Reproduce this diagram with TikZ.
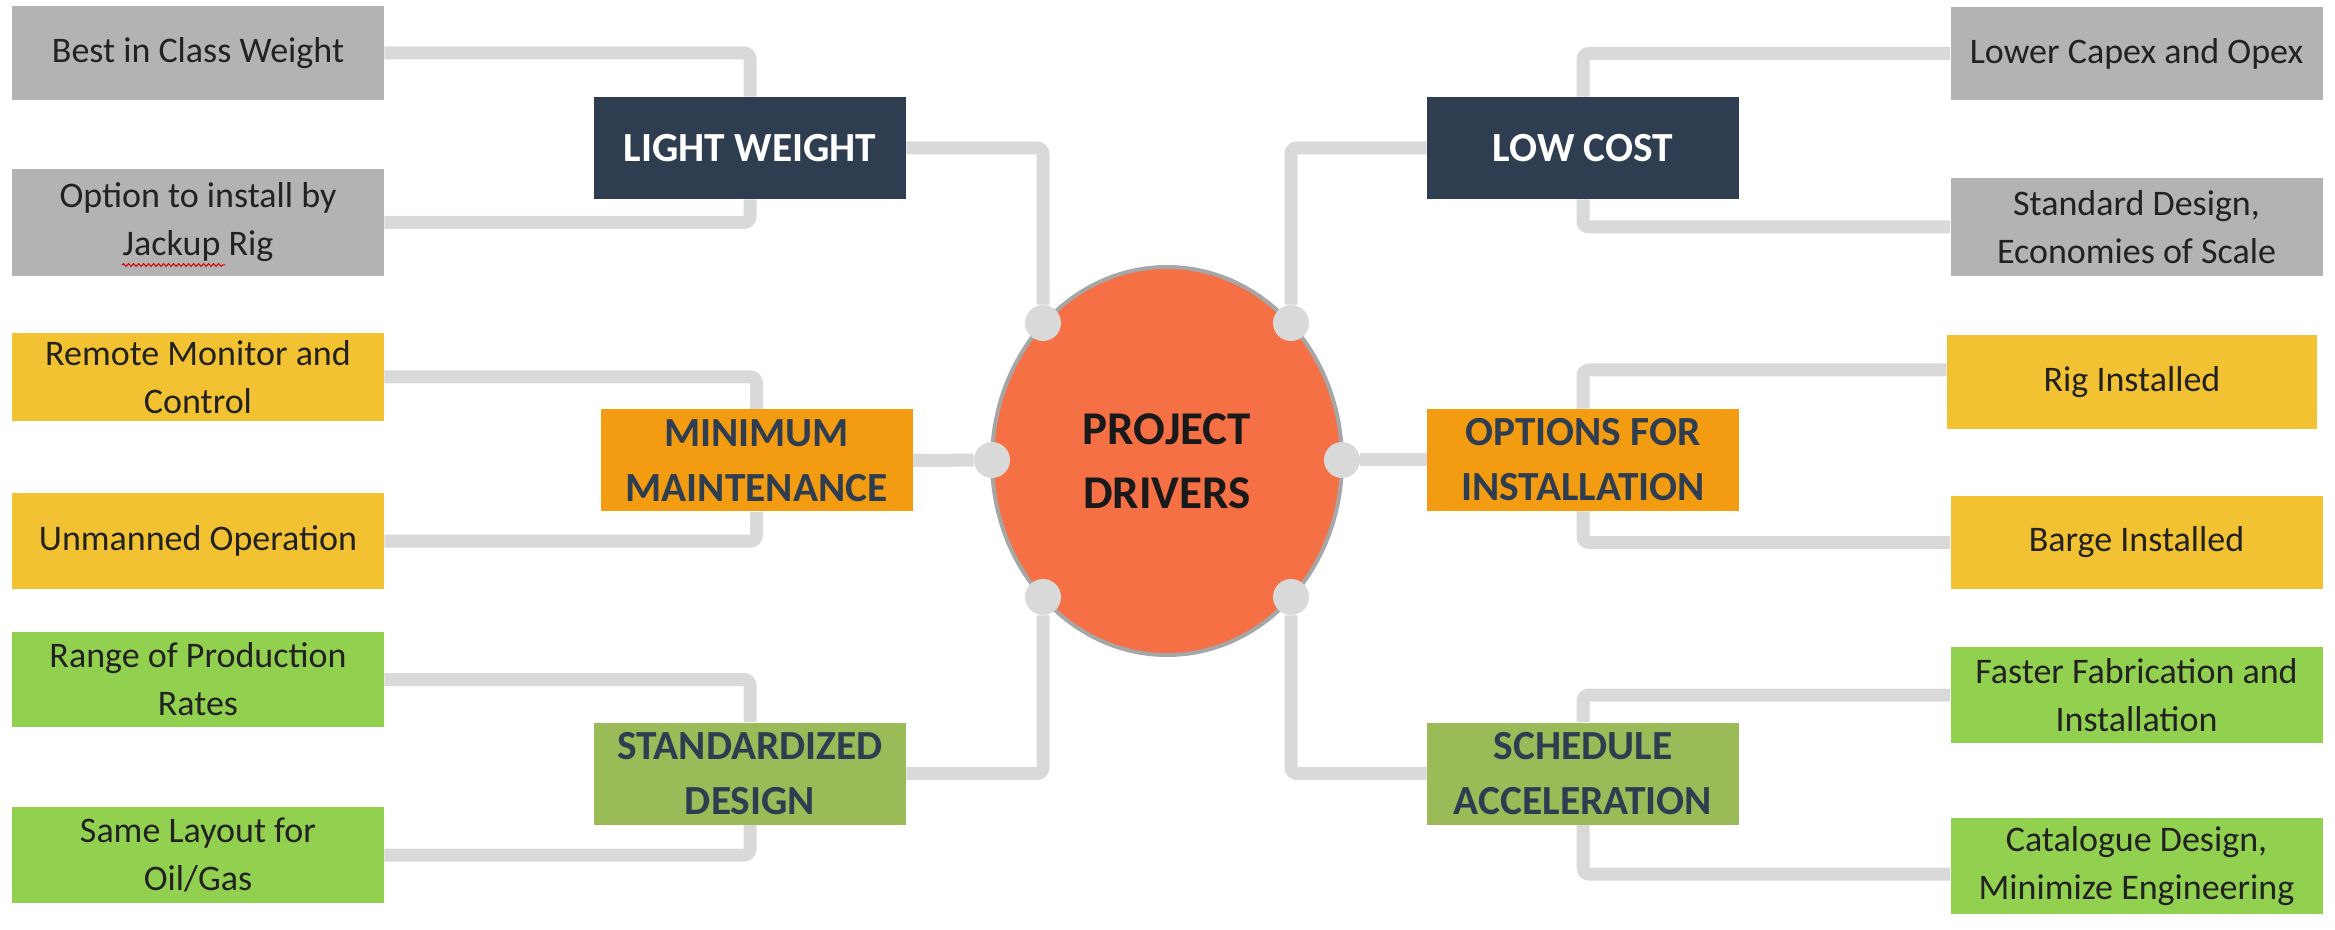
\documentclass[tikz,border=0pt]{standalone}
\usepackage{fontspec}
\setmainfont{Carlito}
\usetikzlibrary{shapes.geometric,backgrounds,decorations.pathmorphing}

\definecolor{leafgray}{RGB}{179,179,179}
\definecolor{navy}{RGB}{46,62,80}
\definecolor{leafyellow}{RGB}{242,194,51}
\definecolor{midorange}{RGB}{243,156,18}
\definecolor{leafgreen}{RGB}{146,208,80}
\definecolor{midgreen}{RGB}{155,187,89}
\definecolor{wire}{RGB}{217,217,217}
\definecolor{corefill}{RGB}{245,112,68}
\definecolor{rim}{RGB}{166,166,166}
\definecolor{ink}{RGB}{34,34,34}

\begin{document}
\begin{tikzpicture}[x=0.5pt,y=-0.5pt,
  leaf/.style={rectangle, inner sep=0pt, text=ink, align=center,
    font=\fontsize{18}{24}\selectfont, minimum width=186pt},
  hub/.style={rectangle, inner sep=0pt, align=center,
    font=\fontsize{20.7}{27.5}\selectfont\bfseries, minimum width=156pt, minimum height=51pt},
  wireline/.style={draw=wire, line width=6.5pt, rounded corners=3pt},
  knob/.style={circle, fill=wire, inner sep=0pt, minimum size=18pt}
]
\useasboundingbox (0,0) rectangle (2335,930);

% left column: leaf boxes
\node[leaf, fill=leafgray, minimum height=47pt]   (best)     at (198,53)    {Best in Class Weight};
\node[leaf, fill=leafgray, minimum height=53.5pt] (optj)     at (198,222.5) {Option to install by\\Jackup Rig};
\node[leaf, fill=leafyellow, minimum height=44pt] (remote)   at (198,377)   {Remote Monitor and\\Control};
\node[leaf, fill=leafyellow, minimum height=48pt] (unmanned) at (198,541)   {Unmanned Operation};
\node[leaf, fill=leafgreen, minimum height=47.5pt](range)    at (198,679.5) {Range of Production\\Rates};
\node[leaf, fill=leafgreen, minimum height=48pt]  (same)     at (198,855)   {Same Layout for\\Oil/Gas};

% right column: leaf boxes
\node[leaf, fill=leafgray, minimum height=46.5pt] (lower)  at (2136.5,53.5)  {Lower Capex and Opex};
\node[leaf, fill=leafgray, minimum height=49pt]   (stdd)   at (2136.5,227)   {Standard Design,\\Economies of Scale};
\node[leaf, fill=leafyellow, minimum height=47pt, minimum width=185pt] (rig) at (2132,382) {Rig Installed};
\node[leaf, fill=leafyellow, minimum height=46.5pt] (barge) at (2136.5,542.5) {Barge Installed};
\node[leaf, fill=leafgreen, minimum height=48pt]  (faster) at (2136.5,695)   {Faster Fabrication and\\Installation};
\node[leaf, fill=leafgreen, minimum height=48pt]  (cat)    at (2136.5,866)   {Catalogue Design,\\Minimize Engineering};

% driver categories
\node[hub, fill=navy, text=white]       (lw)  at (750,148)    {LIGHT WEIGHT};
\node[hub, fill=midorange, text=navy]   (mm)  at (756.5,460.5){MINIMUM\\MAINTENANCE};
\node[hub, fill=midgreen, text=navy]    (sd)  at (750,773.5)  {STANDARDIZED\\DESIGN};
\node[hub, fill=navy, text=white]       (lc)  at (1583,148)   {LOW COST};
\node[hub, fill=midorange, text=navy]   (ofi) at (1583,460)   {OPTIONS FOR\\INSTALLATION};
\node[hub, fill=midgreen, text=navy]    (sa)  at (1583,773.5) {SCHEDULE\\ACCELERATION};

% central ellipse
\node[ellipse, fill=corefill, draw=rim, line width=2pt, inner sep=0pt,
      minimum width=175pt, minimum height=194pt, align=center,
      font=\fontsize{23.5}{32}\selectfont\bfseries, text=black!90] (core) at (1167,461)
      {PROJECT\\DRIVERS};

% joints on the ellipse rim
\node[knob] (ktl) at (1043,323) {};
\node[knob] (ktr) at (1291,323) {};
\node[knob] (kl)  at (992,460)  {};
\node[knob] (kr)  at (1342,460) {};
\node[knob] (kbl) at (1043,597) {};
\node[knob] (kbr) at (1291,597) {};

% connectors
\begin{scope}[on background layer]
\draw[wireline] (best.east) -| (lw.north);
\draw[wireline] (optj.east) -| (lw.south);
\draw[wireline] (remote.east) -| (mm.north);
\draw[wireline] (unmanned.east) -| (mm.south);
\draw[wireline] (range.east) -| (sd.north);
\draw[wireline] (same.east) -| (sd.south);
\draw[wireline] (lower.west) -| (lc.north);
\draw[wireline] (stdd.west) -| (lc.south);
\draw[wireline] ([yshift=6pt]rig.west) -| (ofi.north);
\draw[wireline] (barge.west) -| (ofi.south);
\draw[wireline] (faster.west) -| (sa.north);
\draw[wireline] ([yshift=-4pt]cat.west) -| (sa.south);
\draw[wireline] (lw.east) -| (ktl);
\draw[wireline] (mm.east) -- (kl);
\draw[wireline] (sd.east) -| (kbl);
\draw[wireline] (lc.west) -| (ktr);
\draw[wireline] (ofi.west) -- (kr);
\draw[wireline] (sa.west) -| (kbr);
\end{scope}

% spell-check mark under "Jackup"
\draw[red!85!black, line width=0.5pt, decorate,
      decoration={snake, amplitude=0.7pt, segment length=2.5pt}] (122,265) -- (225,265);
\end{tikzpicture}
\end{document}
